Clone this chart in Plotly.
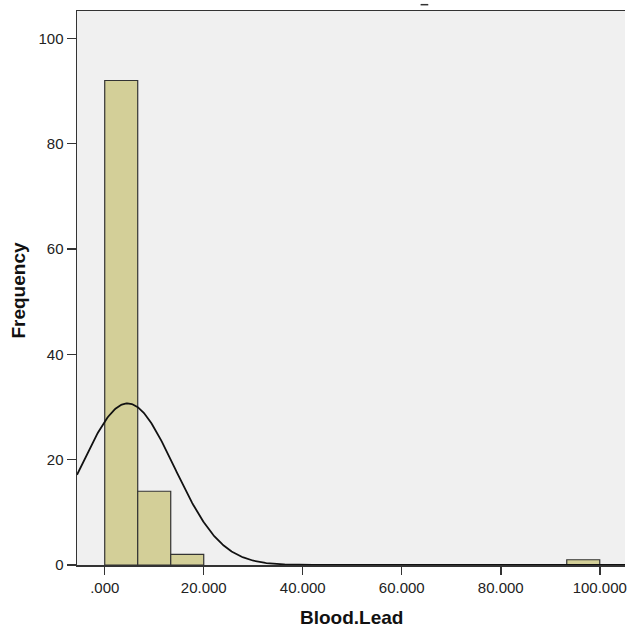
import numpy as np
import plotly.graph_objects as go

# Histogram data (Blood.Lead)
bin_edges = [0.0, 6.6667, 13.3333, 20.0, 26.6667, 33.3333, 40.0, 46.6667, 53.3333,
             60.0, 66.6667, 73.3333, 80.0, 86.6667, 93.3333, 100.0]
counts = [92, 14, 2, 0, 0, 0, 0, 0, 0, 0, 0, 0, 0, 0, 1]

# Normal curve parameters
n_total = 109
mean_val = 4.6
sd_val = 9.45

x_tickvals = [0, 20, 40, 60, 80, 100]
x_ticktext = [".000", "20.000", "40.000", "60.000", "80.000", "100.000"]
y_tickvals = [0, 20, 40, 60, 80, 100]

x_range = [-5.6, 105.1]
y_range = [0, 105.2]

centers = [(bin_edges[i] + bin_edges[i + 1]) / 2 for i in range(len(counts))]
widths = [bin_edges[i + 1] - bin_edges[i] for i in range(len(counts))]
bx = [c for c, k in zip(centers, counts) if k > 0]
bw = [w for w, k in zip(widths, counts) if k > 0]
by = [k for k in counts if k > 0]

binw = widths[0]
xs = np.linspace(x_range[0], x_range[1], 600)
ys = n_total * binw / (sd_val * np.sqrt(2 * np.pi)) * np.exp(-((xs - mean_val) ** 2) / (2 * sd_val ** 2))

fig = go.Figure()
fig.add_trace(go.Bar(
    x=bx, y=by, width=bw,
    marker=dict(color="#d3cf98", line=dict(color="#333333", width=1.2)),
    hoverinfo="skip",
))
fig.add_trace(go.Scatter(
    x=xs, y=ys, mode="lines",
    line=dict(color="#111111", width=1.8),
    hoverinfo="skip",
))

font_family = "Liberation Sans, Arial, sans-serif"
fig.update_layout(
    width=627, height=629,
    margin=dict(l=77, r=0, t=11, b=64),
    paper_bgcolor="white",
    plot_bgcolor="#f0f0f0",
    showlegend=False,
    bargap=0,
    font=dict(family=font_family, size=15, color="#222222"),
    xaxis=dict(
        range=x_range, tickvals=x_tickvals, ticktext=x_ticktext,
        showgrid=False, zeroline=False,
        showline=True, linecolor="#333333", linewidth=1.5, mirror=True,
        ticks="outside", ticklen=8, tickcolor="#333333", tickwidth=1.5,
        tickfont=dict(size=15, color="#222222"),
        ticklabeloverflow="allow",
    ),
    yaxis=dict(
        range=y_range, tickvals=y_tickvals,
        showgrid=False, zeroline=False,
        showline=True, linecolor="#333333", linewidth=1.5, mirror=False,
        ticks="outside", ticklen=9, tickcolor="#333333", tickwidth=1.5,
        tickfont=dict(size=15, color="#222222"),
    ),
    annotations=[
        dict(text="<b>Blood.Lead</b>", xref="paper", yref="paper", x=0.5, y=-0.095,
             xanchor="center", yanchor="middle", showarrow=False,
             font=dict(size=19, color="#111111", family=font_family)),
        dict(text="<b>Frequency</b>", xref="paper", yref="paper", x=-0.106, y=0.497,
             xanchor="center", yanchor="middle", showarrow=False, textangle=-90,
             font=dict(size=19, color="#111111", family=font_family)),
    ],
    shapes=[
        dict(type="line", xref="paper", yref="paper", x0=0.627, x1=0.641, y0=1.0114, y1=1.0114,
             line=dict(color="#333333", width=1.5)),
    ],
)

fig.write_html(
    "out.html",
    config={"displayModeBar": False, "staticPlot": True},
    post_script="document.body.style.margin='0';document.body.style.overflow='hidden';",
)
